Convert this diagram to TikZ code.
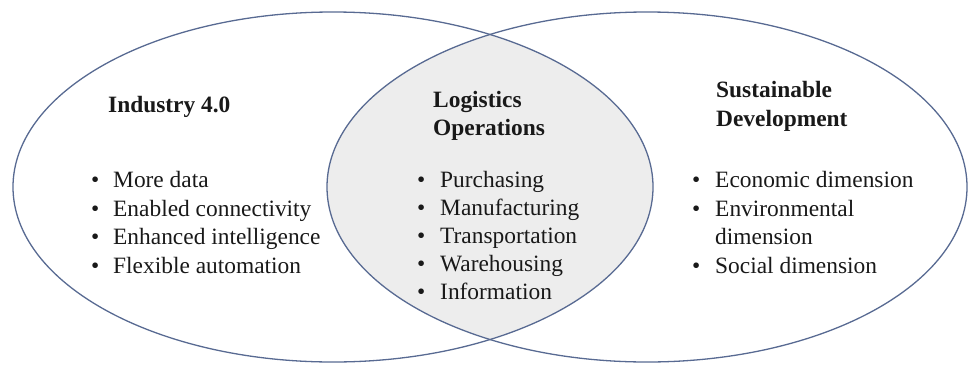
\documentclass[tikz,border=0pt]{standalone}
\usepackage{fontspec}
\setmainfont{Liberation Serif}
\definecolor{vennline}{RGB}{88,106,146}
\definecolor{lensfill}{RGB}{237,237,237}
\definecolor{txtcol}{RGB}{25,25,25}
\newcommand\mainfnt{\fontsize{23.4}{28.5}\selectfont}
\tikzset{
  venn/.style={draw=vennline, line width=1.3pt},
  head/.style={anchor=base west, inner sep=0pt, text=txtcol, font=\mainfnt\bfseries},
  txt/.style={anchor=base west, inner sep=0pt, text=txtcol, font=\mainfnt},
  bul/.style={anchor=base west, inner sep=0pt, text=txtcol, font=\mainfnt},
}
\begin{document}
\begin{tikzpicture}[x=1pt,y=-1pt]
\useasboundingbox (0,0) rectangle (973,364);
% lens fill
\begin{scope}
  \clip (333,187) ellipse [x radius=320pt, y radius=175pt];
  \fill[lensfill] (647,187) ellipse [x radius=320pt, y radius=175pt];
\end{scope}
% outlines
\draw[venn] (333,187) ellipse [x radius=320pt, y radius=175pt];
\draw[venn] (647,187) ellipse [x radius=320pt, y radius=175pt];
% left set
\node[head] (ind) at (108,112) {Industry 4.0};
\node[bul] (lb1) at (91,187) {\textbullet};
\node[txt] (l1) at (113,187) {More data};
\node[bul] (lb2) at (91,216) {\textbullet};
\node[txt] (l2) at (113,216) {Enabled connectivity};
\node[bul] (lb3) at (91,244) {\textbullet};
\node[txt] (l3) at (113,244) {Enhanced intelligence};
\node[bul] (lb4) at (91,273) {\textbullet};
\node[txt] (l4) at (113,273) {Flexible automation};
% middle
\node[head] (log1) at (433,107) {Logistics};
\node[head] (log2) at (433,135) {Operations};
\node[bul] (mb1) at (417,187) {\textbullet};
\node[txt] (m1) at (440,187) {Purchasing};
\node[bul] (mb2) at (417,215) {\textbullet};
\node[txt] (m2) at (440,215) {Manufacturing};
\node[bul] (mb3) at (417,243) {\textbullet};
\node[txt] (m3) at (440,243) {Transportation};
\node[bul] (mb4) at (417,271) {\textbullet};
\node[txt] (m4) at (440,271) {Warehousing};
\node[bul] (mb5) at (417,299) {\textbullet};
\node[txt] (m5) at (440,299) {Information};
% right set
\node[head] (sus1) at (716,97) {Sustainable};
\node[head] (sus2) at (716,126) {Development};
\node[bul] (rb1) at (692,187) {\textbullet};
\node[txt] (r1) at (715,187) {Economic dimension};
\node[bul] (rb2) at (692,216) {\textbullet};
\node[txt] (r2) at (715,216) {Environmental};
\node[txt] (r2b) at (715,244) {dimension};
\node[bul] (rb3) at (692,273) {\textbullet};
\node[txt] (r3) at (715,273) {Social dimension};
\end{tikzpicture}
\end{document}
